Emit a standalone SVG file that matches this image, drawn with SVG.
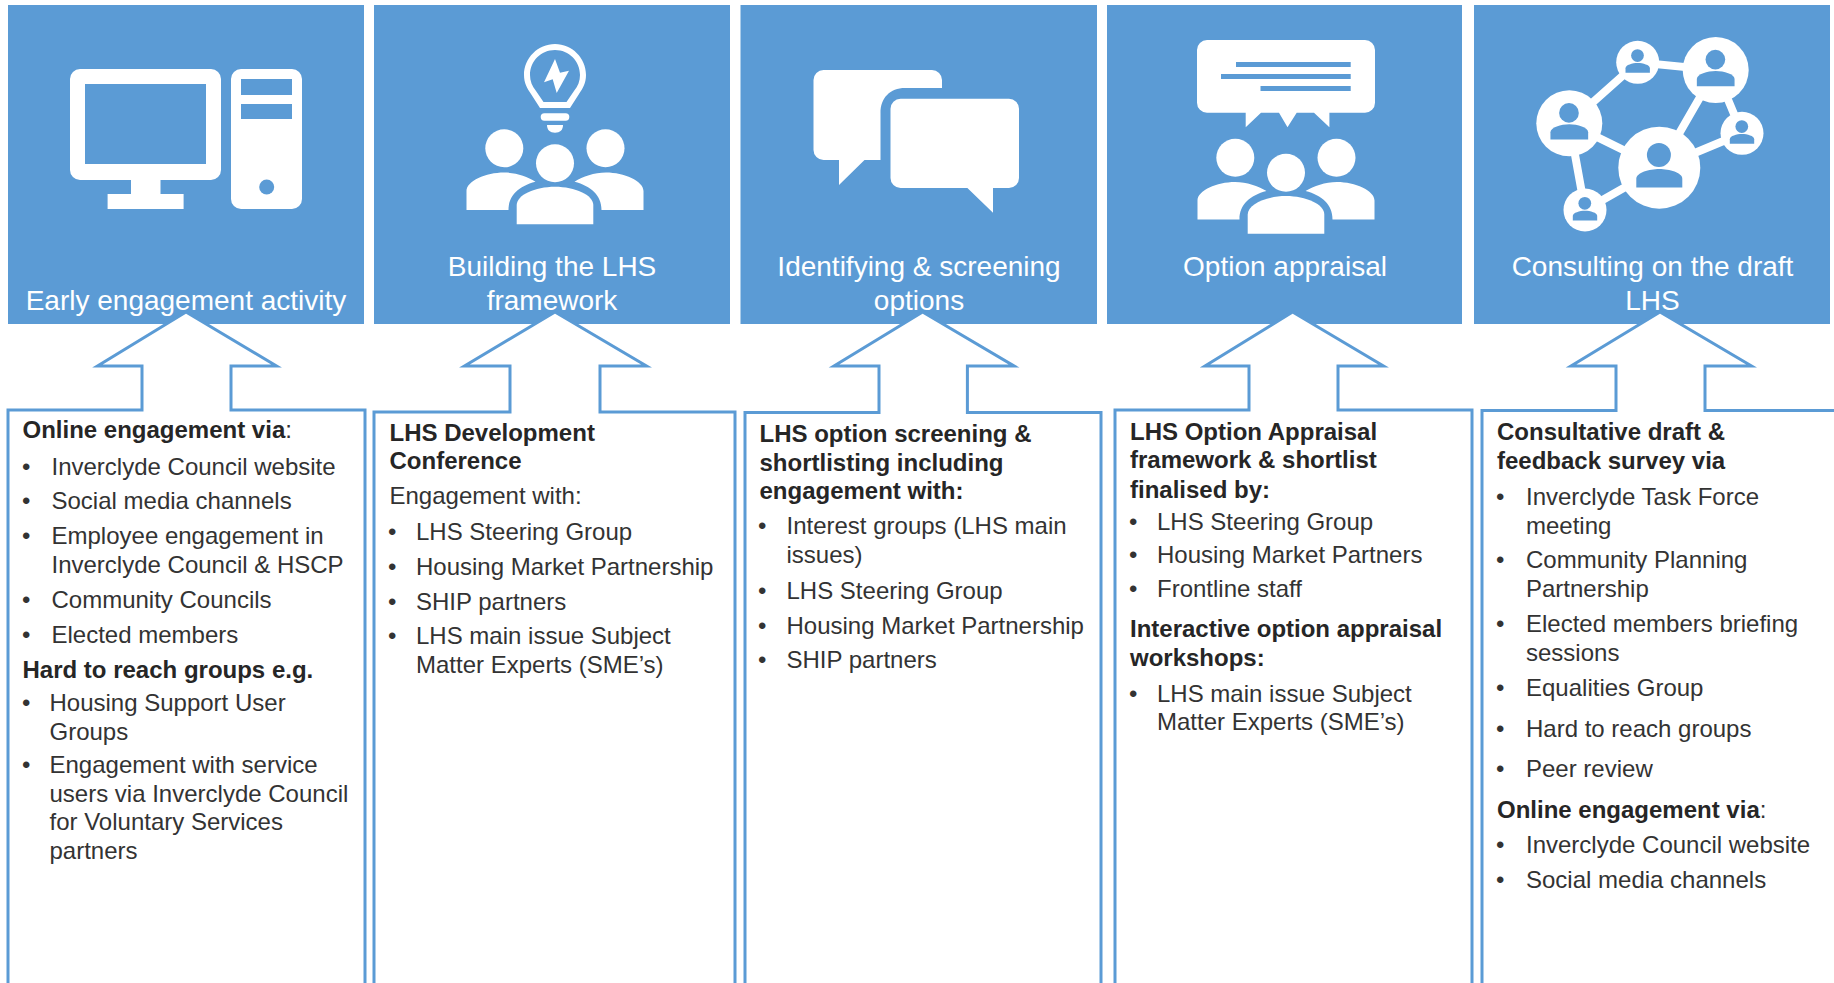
<svg xmlns="http://www.w3.org/2000/svg" width="1834" height="983" viewBox="0 0 1834 983">
<style>
text{font-family:"Liberation Sans",Arial,sans-serif}
.hb{fill:#5b9bd5}
.ic{fill:#fff}
.cut{fill:#5b9bd5}
.ln{stroke:#fff;stroke-width:8;fill:none}
.co{fill:#fff;stroke:#5b9bd5;stroke-width:3}
.h{fill:#fff;font-size:28px;text-anchor:middle}
.t{fill:#333;font-size:24px}
.b{fill:#262626;font-size:24px;font-weight:700}
</style>
<defs>
<g id="people">
<circle cx="504.300" cy="148.300" r="19"/><circle cx="605.500" cy="148.300" r="19"/><circle cx="555" cy="163.300" r="19"/>
<path d="M466.500,210V191C466.500,181 486,172.500 504,172.500C516,172.500 527,176.500 535.500,181.700C519,186 508.500,195 508.500,210Z"/>
<path d="M643.500,210V191C643.500,181 624,172.500 606,172.500C594,172.500 583,176.500 574.500,181.700C591,186 601.500,195 601.500,210Z"/>
<path d="M516.700,224.300V205C516.700,195 535,186.700 555,186.700C575,186.700 593.300,195 593.300,205V224.300Z"/>
</g>
<g id="person" class="cut">
<circle cx="-.4" cy="-12.7" r="12"/>
<path d="M-23,19.700V11C-23,5 -10,1.300 0,1.300C10,1.300 23,5 23,11V19.700Z"/>
</g>
</defs>

<g id="header-1">
<rect class="hb" x="8" y="5" width="356" height="319"/>
<g class="ic">
<path fill-rule="evenodd" d="M80,69H211a10,10 0 0 1 10,10V170a10,10 0 0 1 -10,10H160.500V194H183.600V209H107.600V194H131V180H80a10,10 0 0 1 -10,-10V79a10,10 0 0 1 10,-10ZM85,84V164H206V84Z"/>
<path fill-rule="evenodd" d="M241,69H292a10,10 0 0 1 10,10V199a10,10 0 0 1 -10,10H241a10,10 0 0 1 -10,-10V79a10,10 0 0 1 10,-10ZM241,79V95H292V79ZM241,104V119H292V104Z"/>
<circle class="cut" cx="266.700" cy="187" r="7.500"/>
</g>
<text class="h" x="186" y="310">Early engagement activity</text>
</g>

<g id="header-2">
<rect class="hb" x="374" y="5" width="356" height="319"/>
<g class="ic">
<path fill-rule="evenodd" d="M555,44C572,44 586,58 586,75C586,83 583,88 579,94L570,108H540L531,94C527,88 524,83 524,75C524,58 538,44 555,44ZM555,50C541,50 530,61 530,75C530,81 532,86 536,91L543.500,102H566.500L574,91C578,86 580,81 580,75C580,61 569,50 555,50Z"/>
<path d="M555,59L544,82.300L552.700,79.300L556.700,93L569,70.700L560,72.700Z"/>
<rect x="540.700" y="113.300" width="28.600" height="7.400" rx="3.700"/>
<path d="M547,125H563C563,130 560,132.700 555,132.700C550,132.700 547,130 547,125Z"/>
<use href="#people"/>
</g>
<text class="h" x="552" y="276">Building the LHS</text>
<text class="h" x="552" y="310">framework</text>
</g>

<g id="header-3">
<rect class="hb" x="740.500" y="5" width="356.500" height="319"/>
<g class="ic">
<path d="M823.500,70H932a10,10 0 0 1 10,10V88H905C890,88 880.500,98 880.500,113V160H864.500L839,185V160H823.500a10,10 0 0 1 -10,-10V80a10,10 0 0 1 10,-10Z"/>
<path d="M900.500,98.700H1009a10,10 0 0 1 10,10V178a10,10 0 0 1 -10,10H993V212.700L967.400,188H900.500a10,10 0 0 1 -10,-10V108.700a10,10 0 0 1 10,-10Z"/>
</g>
<text class="h" x="919" y="276">Identifying &amp; screening</text>
<text class="h" x="919" y="310">options</text>
</g>

<g id="header-4">
<rect class="hb" x="1107" y="5" width="355" height="319"/>
<g class="ic">
<path d="M1207,40H1365a10,10 0 0 1 10,10V102.700a10,10 0 0 1 -10,10H1329.400V127.300L1314,112.700H1296.700L1287.500,127.300L1279,112.700H1261L1245.700,127.300V112.700H1207a10,10 0 0 1 -10,-10V50a10,10 0 0 1 10,-10Z"/>
<use href="#people" transform="translate(731 9.400)"/>
</g>
<g class="cut">
<rect x="1236" y="62" width="114.700" height="5"/>
<rect x="1221" y="74" width="129.700" height="5"/>
<rect x="1260.500" y="86" width="90.200" height="5"/>
</g>
<text class="h" x="1285" y="276">Option appraisal</text>
</g>

<g id="header-5">
<rect class="hb" x="1474" y="5" width="356" height="319"/>
<g class="ln">
<path d="M1569.300,123.300L1637.700,62.300L1715.700,70L1659.300,167.700L1742,133.300L1715.700,70"/>
<path d="M1569.300,123.300L1659.300,167.700L1585,210Z"/>
</g>
<g class="ic">
<circle cx="1659.300" cy="167.700" r="41"/>
<circle cx="1715.700" cy="70" r="33"/>
<circle cx="1569.300" cy="123.300" r="33"/>
<circle cx="1637.700" cy="62.300" r="21.500"/>
<circle cx="1742" cy="133.300" r="21.500"/>
<circle cx="1585" cy="210" r="21.500"/>
</g>
<use href="#person" transform="translate(1659.300 167.700)"/>
<use href="#person" transform="translate(1715.700 70) scale(.82)"/>
<use href="#person" transform="translate(1569.300 123.300) scale(.82)"/>
<use href="#person" transform="translate(1637.700 62.300) scale(.53)"/>
<use href="#person" transform="translate(1742 133.300) scale(.53)"/>
<use href="#person" transform="translate(1585 210) scale(.53)"/>
<text class="h" x="1652.500" y="276">Consulting on the draft</text>
<text class="h" x="1652.500" y="310">LHS</text>
</g>

<g id="callout-1">
<path class="co" d="M8,985V410H142V366H97.500L186,312L276.500,366H231V410H365V985"/>
<text class="b" x="22.500" y="438">Online engagement via<tspan class="t" font-weight="400">:</tspan></text>
<text class="t" x="22" y="475">•</text><text class="t" x="51.500" y="475">Inverclyde Council website</text>
<text class="t" x="22" y="509">•</text><text class="t" x="51.500" y="509">Social media channels</text>
<text class="t" x="22" y="544">•</text><text class="t" x="51.500" y="544">Employee engagement in</text>
<text class="t" x="51.500" y="573">Inverclyde Council &amp; HSCP</text>
<text class="t" x="22" y="608">•</text><text class="t" x="51.500" y="608">Community Councils</text>
<text class="t" x="22" y="643">•</text><text class="t" x="51.500" y="643">Elected members</text>
<text class="b" x="22.500" y="678">Hard to reach groups e.g.</text>
<text class="t" x="22" y="711">•</text><text class="t" x="49.500" y="711">Housing Support User</text>
<text class="t" x="49.500" y="740">Groups</text>
<text class="t" x="22" y="773">•</text><text class="t" x="49.500" y="773">Engagement with service</text>
<text class="t" x="49.500" y="802">users via Inverclyde Council</text>
<text class="t" x="49.500" y="830">for Voluntary Services</text>
<text class="t" x="49.500" y="859">partners</text>
</g>

<g id="callout-2">
<path class="co" d="M374,985V412H510V366H464.500L555,312L646.500,366H600V412H735V985"/>
<text class="b" x="389.500" y="441">LHS Development</text>
<text class="b" x="389.500" y="469">Conference</text>
<text class="t" x="389.500" y="504">Engagement with:</text>
<text class="t" x="388" y="540">•</text><text class="t" x="416" y="540">LHS Steering Group</text>
<text class="t" x="388" y="575">•</text><text class="t" x="416" y="575">Housing Market Partnership</text>
<text class="t" x="388" y="610">•</text><text class="t" x="416" y="610">SHIP partners</text>
<text class="t" x="388" y="644">•</text><text class="t" x="416" y="644">LHS main issue Subject</text>
<text class="t" x="416" y="673">Matter Experts (SME’s)</text>
</g>

<g id="callout-3">
<path class="co" d="M745,985V412.500H879V366H834L922.600,312L1014,366H967.400V412.500H1101V985"/>
<text class="b" x="759.500" y="442">LHS option screening &amp;</text>
<text class="b" x="759.500" y="471">shortlisting including</text>
<text class="b" x="759.500" y="499">engagement with:</text>
<text class="t" x="758" y="534">•</text><text class="t" x="786.500" y="534">Interest groups (LHS main</text>
<text class="t" x="786.500" y="563">issues)</text>
<text class="t" x="758" y="599">•</text><text class="t" x="786.500" y="599">LHS Steering Group</text>
<text class="t" x="758" y="634">•</text><text class="t" x="786.500" y="634">Housing Market Partnership</text>
<text class="t" x="758" y="668">•</text><text class="t" x="786.500" y="668">SHIP partners</text>
</g>

<g id="callout-4">
<path class="co" d="M1115,985V410H1249V366H1205L1292.600,312L1383.500,366H1338V410H1472V985"/>
<text class="b" x="1130" y="440">LHS Option Appraisal</text>
<text class="b" x="1130" y="468">framework &amp; shortlist</text>
<text class="b" x="1130" y="498">finalised by:</text>
<text class="t" x="1129" y="530">•</text><text class="t" x="1157" y="530">LHS Steering Group</text>
<text class="t" x="1129" y="563">•</text><text class="t" x="1157" y="563">Housing Market Partners</text>
<text class="t" x="1129" y="597">•</text><text class="t" x="1157" y="597">Frontline staff</text>
<text class="b" x="1130" y="637">Interactive option appraisal</text>
<text class="b" x="1130" y="666">workshops:</text>
<text class="t" x="1129" y="701.500">•</text><text class="t" x="1157" y="701.500">LHS main issue Subject</text>
<text class="t" x="1157" y="730">Matter Experts (SME’s)</text>
</g>

<g id="callout-5">
<path class="co" d="M1482,985V410.500H1616V366H1571L1660,312L1751.500,366H1705V410.500H1836"/>
<text class="b" x="1497" y="440">Consultative draft &amp;</text>
<text class="b" x="1497" y="469">feedback survey via</text>
<text class="t" x="1496" y="505">•</text><text class="t" x="1526" y="505">Inverclyde Task Force</text>
<text class="t" x="1526" y="534">meeting</text>
<text class="t" x="1496" y="568">•</text><text class="t" x="1526" y="568">Community Planning</text>
<text class="t" x="1526" y="597">Partnership</text>
<text class="t" x="1496" y="632">•</text><text class="t" x="1526" y="632">Elected members briefing</text>
<text class="t" x="1526" y="661">sessions</text>
<text class="t" x="1496" y="696">•</text><text class="t" x="1526" y="696">Equalities Group</text>
<text class="t" x="1496" y="737">•</text><text class="t" x="1526" y="737">Hard to reach groups</text>
<text class="t" x="1496" y="777">•</text><text class="t" x="1526" y="777">Peer review</text>
<text class="b" x="1497" y="818">Online engagement via<tspan class="t" font-weight="400">:</tspan></text>
<text class="t" x="1496" y="853">•</text><text class="t" x="1526" y="853">Inverclyde Council website</text>
<text class="t" x="1496" y="888">•</text><text class="t" x="1526" y="888">Social media channels</text>
</g>
</svg>
